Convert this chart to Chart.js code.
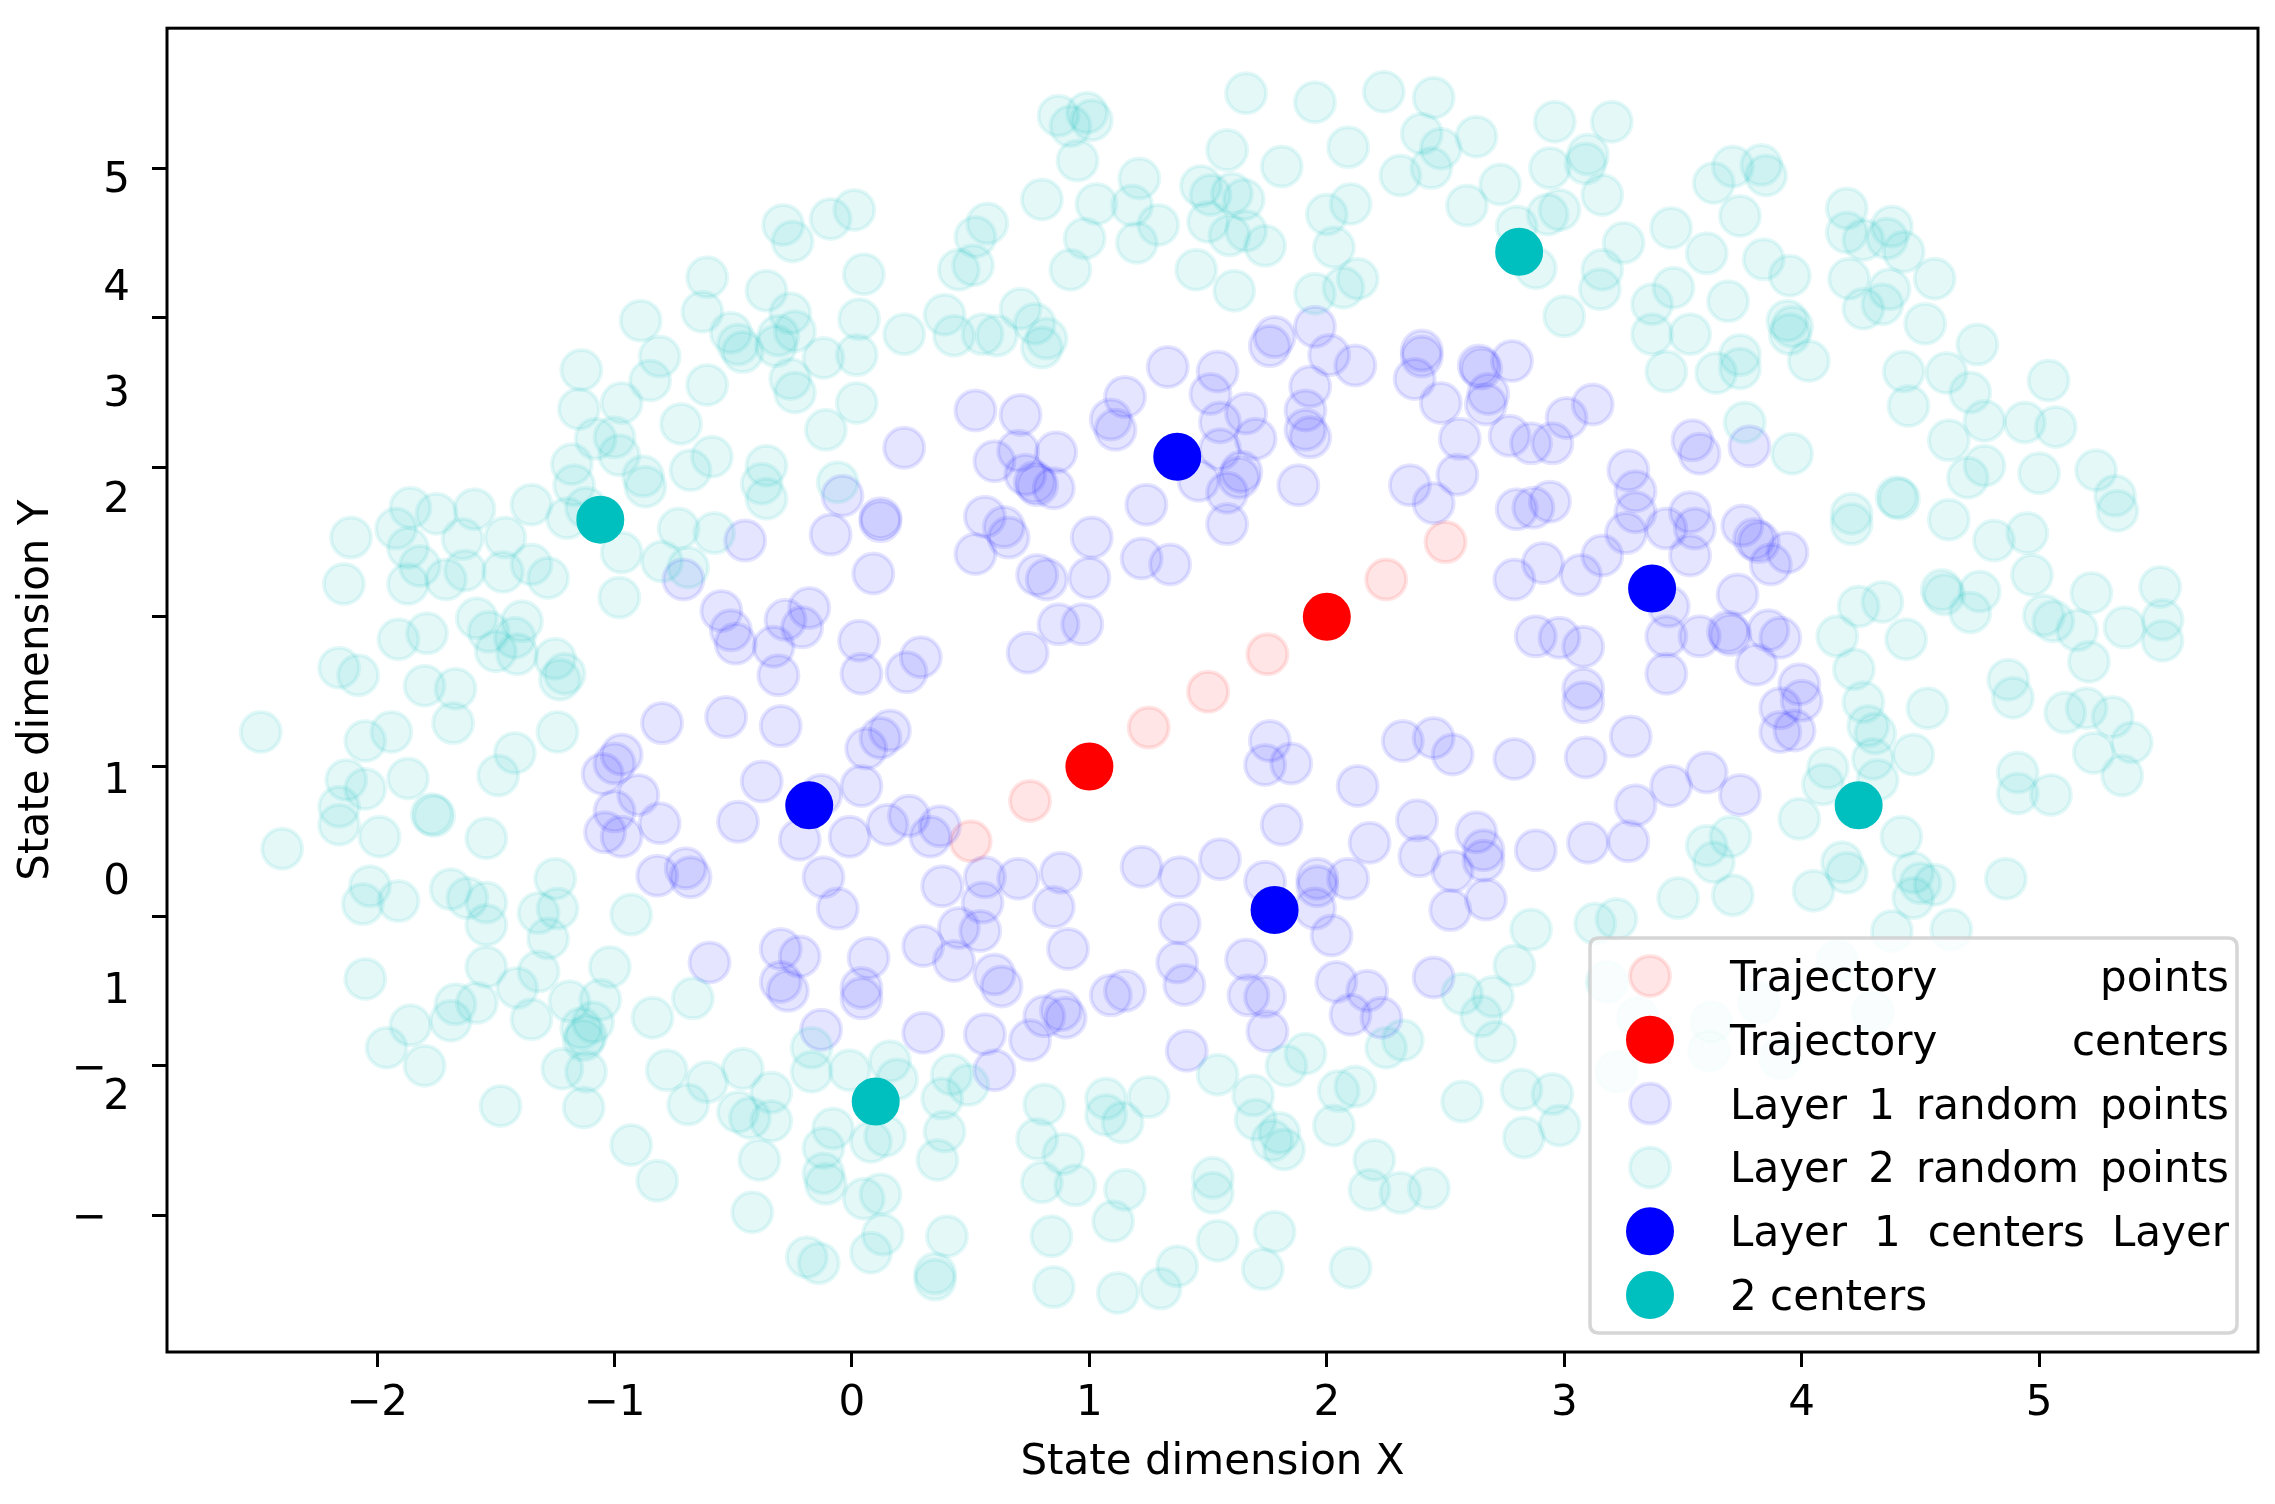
<!DOCTYPE html>
<html><head><meta charset="utf-8">
<script src="https://cdn.jsdelivr.net/npm/chart.js@4/dist/chart.umd.min.js"></script>
<style>html,body{margin:0;padding:0;background:#fff;}canvas{display:block;}</style>
</head><body>
<canvas id="c" width="2275" height="1504" style="width:2275px;height:1504px"></canvas>
<script>
// ---------------- data ----------------
const seriesNames = ['Trajectory points','Trajectory centers','Layer 1 random points','Layer 2 random points','Layer 1 centers','Layer 2 centers'];
const legendLines = ['Trajectory points','Trajectory centers','Layer 1 random points','Layer 2 random points','Layer 1 centers Layer','2 centers'];
const xTickValues = [-2,-1,0,1,2,3,4,5];
const yTickValues = [5,4,3,2,1,0,-1,-2];
const yTickText = ['5','4','3','2','1','0','1','2'];
const xTitle = 'State dimension X';
const yTitle = 'State dimension Y';

const trajectoryPoints = [[0.5,0.5],[0.75,0.77],[1,1],[1.25,1.26],[1.5,1.5],[1.75,1.75],[2,2],[2.25,2.25],[2.5,2.5]];
const trajectoryCenters = [[1,1],[2,2]];
const layer1Centers = [[-0.18,0.74],[1.37,3.07],[3.37,2.19],[1.78,0.04]];
const layer2Centers = [[-1.06,2.65],[2.81,4.44],[4.24,0.74],[0.10,-1.24]];

const layer1Points = [
[-0.45,2.51],[-0.09,2.55],[-0.04,2.81],[-0.71,2.25],[-0.55,2.04],[-0.51,1.91],[-0.49,1.82],[-0.28,1.98],[-0.18,2.06],[-0.21,1.93],[-0.33,1.80],[-0.31,1.61],
[0.52,3.38],[0.71,3.35],[0.22,3.13],[0.60,3.04],[0.70,3.11],[0.86,3.10],[0.73,2.95],[0.77,2.90],[0.85,2.86],[0.78,2.88],[0.12,2.66],[0.12,2.64],[0.56,2.67],[0.64,2.60],[0.66,2.53],[0.52,2.42],[0.09,2.29],[0.78,2.28],[0.82,2.25],[1.00,2.26],[1.01,2.53],[0.87,1.95],[0.97,1.95],[0.74,1.76],[0.03,1.84],[0.04,1.62],[0.29,1.73],[0.23,1.63],
[1.09,3.32],[1.11,3.25],[1.15,3.47],[1.33,3.67],[1.54,3.64],[1.51,3.49],[1.55,3.30],[1.66,3.36],[1.70,3.19],[1.55,3.12],[1.64,2.97],[1.63,2.93],[1.46,2.91],[1.58,2.83],[1.58,2.62],[1.24,2.75],[1.22,2.39],[1.34,2.35],[1.88,2.88],
[1.76,3.81],[1.78,3.87],[1.95,3.94],[2.01,3.75],[2.12,3.68],[1.93,3.54],[1.91,3.38],[1.91,3.25],[1.93,3.20],[2.40,3.78],[2.40,3.74],[2.37,3.59],[2.48,3.43],[2.64,3.68],[2.65,3.66],[2.78,3.71],[2.68,3.49],[2.67,3.42],[2.56,3.19],[2.55,2.95],[2.35,2.88],[2.45,2.76],[2.77,3.21],[2.86,3.16],[2.95,3.16],[3.01,3.33],[2.80,2.72],[2.87,2.73],[2.94,2.77],[2.91,2.36],[2.79,2.25],[2.88,1.87],[2.98,1.86],
[3.12,3.42],[3.54,3.18],[3.57,3.09],[3.78,3.14],[3.27,2.98],[3.30,2.84],[3.30,2.70],[3.26,2.56],[3.43,2.59],[3.53,2.70],[3.55,2.59],[3.53,2.41],[3.75,2.61],[3.80,2.52],[3.82,2.50],[3.94,2.43],[3.87,2.35],[3.16,2.41],[3.07,2.28],[3.73,2.15],[3.44,2.07],[3.43,1.87],[3.57,1.87],[3.69,1.90],[3.70,1.88],[3.91,1.86],[3.86,1.91],[3.81,1.68],[3.43,1.62],[3.08,1.80],[3.99,1.55],[3.08,1.52],
[-0.80,1.29],[-0.53,1.33],[-0.30,1.27],[-0.97,1.08],[-1.00,1.02],[-1.05,0.95],[-1.00,0.70],[-0.90,0.81],[-0.81,0.62],[-1.04,0.56],[-0.97,0.53],[-0.38,0.90],[-0.48,0.63],[-0.82,0.27],[-0.70,0.32],[-0.68,0.26],[-0.22,0.51],[-0.12,0.26],[-0.13,0.81],[-0.01,0.53],[-0.06,0.05],[-0.60,-0.31],[-0.30,-0.22],[-0.22,-0.27],[-0.30,-0.44],[-0.27,-0.50],[-0.13,-0.76],
[0.16,1.24],[0.12,1.19],[0.06,1.12],[0.04,0.87],[0.15,0.61],[0.24,0.67],[0.37,0.60],[0.33,0.53],[0.38,0.20],[0.56,0.26],[0.70,0.25],[0.88,0.29],[0.55,0.09],[0.85,0.06],[0.45,-0.08],[0.54,-0.10],[0.30,-0.20],[0.43,-0.30],[0.07,-0.28],[0.04,-0.48],[0.04,-0.55],[0.60,-0.39],[0.63,-0.47],[0.91,-0.22],[0.30,-0.78],[0.56,-0.79],[0.60,-1.03],[0.75,-0.83],[0.81,-0.67],[0.88,-0.63],[0.90,-0.68],[1.09,-0.53],[1.15,-0.50],
[1.22,0.33],[1.38,0.26],[1.55,0.38],[1.38,-0.05],[1.37,-0.31],[1.40,-0.46],[1.41,-0.90],[1.76,1.17],[1.74,1.01],[1.85,1.02],[1.81,0.61],[1.74,0.23],[1.66,-0.29],[1.67,-0.53],[1.74,-0.54],[1.75,-0.77],
[2.13,0.87],[2.18,0.49],[1.96,0.25],[1.96,0.20],[2.09,0.25],[1.95,0.05],[2.02,-0.13],[2.04,-0.44],[2.17,-0.50],[2.10,-0.66],[2.23,-0.68],[2.32,1.17],[2.45,1.19],[2.53,1.08],[2.79,1.05],[2.38,0.64],[2.39,0.40],[2.53,0.30],[2.63,0.56],[2.66,0.44],[2.66,0.37],[2.52,0.04],[2.67,0.11],[2.88,0.44],[2.45,-0.41],
[3.08,1.43],[3.28,1.20],[3.09,1.06],[3.45,0.87],[3.60,0.96],[3.74,0.81],[3.30,0.74],[3.10,0.49],[3.27,0.50],[3.91,1.39],[4.00,1.44],[3.91,1.23],[3.97,1.24]
];

const layer2Points = [
[-0.29,4.62],[-0.25,4.51],[-0.09,4.66],[-0.61,4.27],[-0.36,4.18],[-0.63,4.04],[-0.89,3.98],[-0.26,4.03],[-0.24,3.91],[-0.51,3.90],[-0.48,3.82],[-0.46,3.77],[-0.32,3.81],[-0.31,3.88],[-0.12,3.73],[-0.81,3.74],[-0.85,3.58],[-1.14,3.65],[-1.15,3.39],[-0.97,3.43],[-0.61,3.55],[-0.26,3.59],[-0.24,3.50],[-0.11,3.25],[-0.72,3.29],[-1.08,3.19],[-1.00,3.20],[-0.98,3.08],[-1.18,3.02],[-1.17,2.88],[-0.88,2.94],[-0.87,2.87],[-0.59,3.07],[-0.68,2.98],[-0.36,3.01],[-0.38,2.89],[-0.36,2.79],[-0.06,2.90],
[-1.20,2.66],[-1.12,2.73],[-1.35,2.75],[-1.59,2.72],[-1.86,2.73],[-1.75,2.69],[-1.92,2.59],[-2.11,2.53],[-1.87,2.46],[-1.64,2.52],[-1.46,2.53],[-0.97,2.43],[-0.73,2.59],[-0.58,2.56],[-0.80,2.37],[-0.69,2.33],[-2.14,2.22],[-1.87,2.22],[-1.82,2.34],[-1.71,2.25],[-1.63,2.31],[-1.47,2.30],[-1.35,2.35],[-1.28,2.26],[-0.98,2.13],[-1.58,1.99],[-1.53,1.90],[-1.39,1.97],[-1.42,1.86],[-1.50,1.77],[-1.41,1.75],[-1.79,1.89],[-1.91,1.85],[-2.16,1.66],[-2.08,1.61],[-1.80,1.54],[-1.67,1.52],[-1.25,1.72],[-1.21,1.62],[-1.23,1.58],
[1.66,5.50],[1.95,5.44],[2.24,5.51],[2.45,5.47],[0.87,5.35],[0.92,5.28],[0.99,5.37],[1.01,5.32],[0.95,5.05],[1.58,5.12],[1.81,5.01],[2.09,5.14],[2.40,5.23],[2.48,5.13],[2.63,5.21],[2.31,4.95],[2.44,5.00],[2.96,5.31],[2.94,5.00],[2.73,4.89],[2.59,4.75],[2.80,4.61],[2.88,4.33],[2.93,4.69],[2.98,4.72],[3.00,4.01],
[0.80,4.79],[1.03,4.76],[1.21,4.93],[1.18,4.75],[1.29,4.62],[0.98,4.53],[1.20,4.50],[0.92,4.32],[0.57,4.63],[0.52,4.54],[0.45,4.32],[0.51,4.35],[1.47,4.88],[1.51,4.82],[1.60,4.83],[1.65,4.79],[1.50,4.64],[1.59,4.55],[1.66,4.58],[1.74,4.48],[1.45,4.32],[1.61,4.18],[2.00,4.69],[2.10,4.76],[2.03,4.47],[1.95,4.16],[2.07,4.20],[2.13,4.26],
[0.01,4.72],[0.05,4.29],[0.03,3.99],[0.02,3.75],[0.02,3.43],[0.22,3.89],[0.39,4.02],[0.43,3.88],[0.55,3.89],[0.61,3.88],[0.71,4.06],[0.77,3.96],[0.82,3.86],[0.80,3.80],
[3.20,5.31],[3.10,5.09],[3.09,5.03],[3.16,4.82],[3.71,5.01],[3.63,4.90],[3.83,5.02],[3.85,4.95],[3.74,4.68],[3.45,4.60],[3.25,4.50],[3.60,4.43],[3.84,4.39],[3.95,4.28],[3.16,4.32],[3.15,4.19],[3.46,4.20],[3.37,4.09],[3.69,4.11],[3.37,3.89],[3.53,3.89],[3.43,3.64],[3.64,3.63],[3.74,3.75],[3.74,3.66],[3.94,3.98],[3.96,3.94],[3.95,3.89],[4.03,3.71],
[4.19,4.73],[4.19,4.57],[4.26,4.52],[4.38,4.61],[4.36,4.53],[4.43,4.44],[4.20,4.26],[4.37,4.19],[4.56,4.26],[4.26,4.06],[4.34,4.09],[4.52,3.96],[4.74,3.82],[4.43,3.64],[4.45,3.41],[4.61,3.63],[4.71,3.50],[4.77,3.31],[4.62,3.18],[4.77,3.01],[4.70,2.93],[5.04,3.58],[4.94,3.30],[5.07,3.27],[5.00,2.96],[5.24,2.98],[5.32,2.81],[5.33,2.71],
[3.76,3.30],[3.96,3.09],[4.21,2.69],[4.21,2.62],[4.40,2.80],[4.41,2.79],[4.62,2.65],[4.81,2.51],[4.95,2.56],[4.97,2.28],[4.24,2.07],[4.34,2.10],[4.59,2.18],[4.60,2.15],[4.71,2.03],[4.75,2.17],[4.44,1.85],[4.15,1.87],[4.22,1.65],[5.02,2.01],[5.06,1.97],[5.16,1.91],[5.22,2.16],[5.36,1.93],[5.51,2.20],[5.52,1.98],[5.52,1.84],[5.21,1.70],[4.87,1.58],
[-2.49,1.23],[-2.40,0.45],[-2.05,1.17],[-1.94,1.23],[-2.13,0.91],[-2.05,0.85],[-1.87,0.92],[-2.16,0.73],[-2.16,0.61],[-1.99,0.53],[-1.77,0.68],[-1.76,0.67],[-1.68,1.29],[-1.42,1.09],[-1.49,0.94],[-1.24,1.23],[-1.54,0.52],[-2.03,0.20],[-2.06,0.08],[-1.91,0.10],[-1.69,0.18],[-1.62,0.12],[-1.54,0.09],[-1.54,-0.06],[-1.25,0.25],[-1.32,0.02],[-1.24,0.05],[-1.28,-0.15],[-0.93,0.01],
[-2.05,-0.42],[-1.54,-0.34],[-1.32,-0.37],[-1.41,-0.48],[-1.02,-0.34],[-1.19,-0.57],[-1.06,-0.56],[-1.67,-0.59],[-1.58,-0.58],[-1.69,-0.70],[-1.35,-0.69],[-1.86,-0.73],[-1.96,-0.88],[-1.80,-1.00],[-1.13,-0.83],[-1.12,-0.80],[-1.14,-0.75],[-1.09,-0.71],[-1.22,-1.02],[-1.12,-1.04],[-1.13,-1.28],[-1.48,-1.27],
[-0.84,-0.68],[-0.67,-0.55],[-0.78,-1.03],[-0.61,-1.11],[-0.69,-1.26],[-0.46,-1.02],[-0.34,-1.18],[-0.48,-1.31],[-0.43,-1.35],[-0.34,-1.37],[-0.39,-1.63],[-0.08,-1.42],[-0.12,-1.55],[-0.12,-1.72],[-0.11,-1.79],[-0.17,-1.04],[-0.17,-0.88],[-0.01,-1.03],[-0.93,-1.53],[-0.82,-1.77],[-0.42,-1.98],[-0.19,-2.28],[-0.14,-2.32],
[0.16,-0.97],[0.19,-1.09],[0.14,-1.47],[0.08,-1.51],[0.39,-1.44],[0.38,-1.22],[0.42,-1.06],[0.49,-1.13],[0.36,-1.63],[0.12,-1.86],[0.05,-1.89],[0.13,-2.13],[0.08,-2.25],[0.40,-2.14],[0.35,-2.39],[0.35,-2.43],
[0.81,-1.26],[0.78,-1.49],[0.89,-1.59],[0.80,-1.78],[0.94,-1.80],[0.84,-2.14],[0.85,-2.48],[1.07,-1.22],[1.07,-1.33],[1.14,-1.38],[1.25,-1.21],[1.15,-1.83],[1.10,-2.04],[1.12,-2.52],[1.30,-2.49],[1.37,-2.34],[1.52,-1.75],[1.52,-1.85],[1.54,-2.17],[1.54,-1.06],
[1.69,-1.20],[1.70,-1.36],[1.77,-1.50],[1.80,-1.45],[1.82,-1.56],[1.83,-1.00],[1.91,-0.92],[1.78,-2.11],[1.73,-2.36],[2.03,-1.40],[2.05,-1.17],[2.12,-1.14],[2.20,-1.63],[2.18,-1.83],[2.31,-1.85],[2.43,-1.82],[2.10,-2.35],[2.25,-0.88],[2.32,-0.83],[2.57,-1.24],[2.57,-0.52],[2.70,-0.54],[2.65,-0.67],[2.71,-0.84],[2.79,-0.33],[2.86,-0.09],[2.82,-1.16],[2.95,-1.19],[2.83,-1.48],[2.98,-1.40],
[4.26,1.43],[4.53,1.39],[4.28,1.27],[4.31,1.22],[4.11,0.99],[4.30,1.05],[4.32,0.91],[4.47,1.08],[4.09,0.88],[3.99,0.65],[4.42,0.53],[3.60,0.47],[3.70,0.53],[3.63,0.36],[3.71,0.14],[3.48,0.12],[4.17,0.36],[4.19,0.29],[4.05,0.17],[4.47,0.29],[4.50,0.22],[4.56,0.21],[4.47,0.12],[4.86,0.25],
[4.91,0.96],[4.91,0.82],[5.05,0.81],[5.11,1.36],[5.20,1.39],[5.23,1.09],[5.31,1.33],[5.39,1.16],[5.35,0.94],[4.89,1.46],[3.13,-0.05],[3.22,-0.02],[4.38,-0.10],[4.63,-0.09],
[3.18,-0.44],[3.31,-0.68],[3.22,-1.04],[3.62,-0.71],[3.61,-0.90],[3.82,-0.58],[3.91,-0.95],[4.15,-0.30],[4.30,-0.64]
];

// ---------------- chart ----------------
const FONT = "'DejaVu Sans', 'Liberation Sans', sans-serif";
const FS = 42;
const toXY = arr => arr.map(p => ({x: p[0], y: p[1]}));

const styles = [
  {fill:'rgba(255,0,0,0.1)', r:20},
  {fill:'rgb(255,0,0)', r:22},
  {fill:'rgba(0,0,255,0.1)', r:20},
  {fill:'rgba(0,191,191,0.1)', r:20},
  {fill:'rgb(0,0,255)', r:22},
  {fill:'rgb(0,191,191)', r:22}
];
const seriesData = [trajectoryPoints, trajectoryCenters, layer1Points, layer2Points, layer1Centers, layer2Centers];

const datasets = seriesData.map((d, i) => ({
  label: seriesNames[i],
  data: toXY(d),
  pointRadius: styles[i].r,
  pointHoverRadius: styles[i].r,
  pointBorderWidth: 4,
  pointBackgroundColor: styles[i].fill,
  pointBorderColor: styles[i].fill,
  showLine: false,
  order: 6 - i
}));

const frameAndLabels = {
  id: 'frameAndLabels',
  afterDatasetsDraw(chart) {
    const ctx = chart.ctx, a = chart.chartArea;
    ctx.save();
    ctx.strokeStyle = '#000';
    ctx.lineWidth = 3;
    ctx.strokeRect(a.left, a.top, a.right - a.left, a.bottom - a.top);
    ctx.restore();
  },
  afterDraw(chart) {
    const ctx = chart.ctx, a = chart.chartArea, ys = chart.scales.y;
    ctx.save();
    ctx.font = FS + 'px ' + FONT;
    ctx.fillStyle = '#000';
    // y tick labels (drawn shifted as in the original picture)
    const drift = [4.94, 4.22, 3.51, 2.80, 0.92, 0.25, -0.48, -1.19];
    ctx.textAlign = 'right';
    ctx.textBaseline = 'alphabetic';
    yTickText.forEach((t, i) => {
      const py = ys.getPixelForValue(drift[i]);
      ctx.fillText(t, a.left - 37, py + 15);
    });
    // detached minus signs for the negative ticks
    ctx.textAlign = 'center';
    yTickValues.forEach(v => {
      if (v < 0) ctx.fillText('\u2212', 89, ys.getPixelForValue(v) + 15);
    });

    // legend
    const bx = a.right - 668, by = a.bottom - 414, bw = 647, bh = 395, rr = 9;
    ctx.beginPath();
    ctx.moveTo(bx + rr, by);
    ctx.lineTo(bx + bw - rr, by); ctx.quadraticCurveTo(bx + bw, by, bx + bw, by + rr);
    ctx.lineTo(bx + bw, by + bh - rr); ctx.quadraticCurveTo(bx + bw, by + bh, bx + bw - rr, by + bh);
    ctx.lineTo(bx + rr, by + bh); ctx.quadraticCurveTo(bx, by + bh, bx, by + bh - rr);
    ctx.lineTo(bx, by + rr); ctx.quadraticCurveTo(bx, by, bx + rr, by);
    ctx.closePath();
    ctx.fillStyle = 'rgba(255,255,255,0.8)';
    ctx.fill();
    ctx.strokeStyle = 'rgba(204,204,204,0.8)';
    ctx.lineWidth = 3.5;
    ctx.stroke();

    const tx0 = bx + 140, tx1 = bx + bw - 8;
    chart.data.datasets.forEach((ds, i) => {
      const cy = by + 38 + i * 63.8;
      ctx.beginPath();
      ctx.arc(bx + 60, cy, ds.pointRadius, 0, Math.PI * 2);
      ctx.fillStyle = ds.pointBackgroundColor;
      ctx.fill();
      ctx.lineWidth = ds.pointBorderWidth;
      ctx.strokeStyle = ds.pointBorderColor;
      ctx.stroke();

      ctx.fillStyle = '#000';
      ctx.textAlign = 'left';
      const line = legendLines[i];
      const words = line.split(' ');
      const justify = i < legendLines.length - 1 && words.length > 1;
      if (!justify) {
        ctx.fillText(line, tx0, cy + 15);
      } else {
        const ww = words.map(w => ctx.measureText(w).width);
        const tot = ww.reduce((s, w) => s + w, 0);
        const gap = (tx1 - tx0 - tot) / (words.length - 1);
        let x = tx0;
        words.forEach((w, k) => { ctx.fillText(w, x, cy + 15); x += ww[k] + gap; });
      }
    });
    ctx.restore();
  }
};

new Chart(document.getElementById('c'), {
  type: 'scatter',
  data: { datasets },
  options: {
    responsive: false,
    devicePixelRatio: 1,
    animation: false,
    events: [],
    layout: { autoPadding: false, padding: { left: 0, top: 22, right: 17, bottom: 0 } },
    plugins: { legend: { display: false }, tooltip: { enabled: false } },
    scales: {
      x: {
        type: 'linear',
        min: -2.885, max: 5.922,
        afterBuildTicks: s => { s.ticks = xTickValues.map(v => ({ value: v })); },
        afterFit: s => { s.height = 152; },
        grid: { drawOnChartArea: false, drawTicks: true, tickLength: 15, tickWidth: 3, tickColor: '#000' },
        border: { display: false },
        ticks: {
          autoSkip: false, maxRotation: 0, padding: 12, color: '#000',
          font: { family: FONT, size: FS },
          callback: v => v < 0 ? '\u2212' + Math.abs(v) : String(v)
        },
        title: { display: true, text: xTitle, color: '#000', font: { family: FONT, size: FS }, padding: { top: 0, bottom: 16 } }
      },
      y: {
        type: 'linear',
        min: -2.914, max: 5.935,
        afterBuildTicks: s => { s.ticks = yTickValues.map(v => ({ value: v })); },
        afterFit: s => { s.width = 167; },
        grid: { drawOnChartArea: false, drawTicks: true, tickLength: 15, tickWidth: 3, tickColor: '#000' },
        border: { display: false },
        ticks: { autoSkip: false, color: '#000', font: { family: FONT, size: FS }, callback: () => '' },
        title: { display: true, text: yTitle, color: '#000', font: { family: FONT, size: FS }, padding: { top: 12, bottom: 0 } }
      }
    }
  },
  plugins: [frameAndLabels]
});
</script>
</body></html>
